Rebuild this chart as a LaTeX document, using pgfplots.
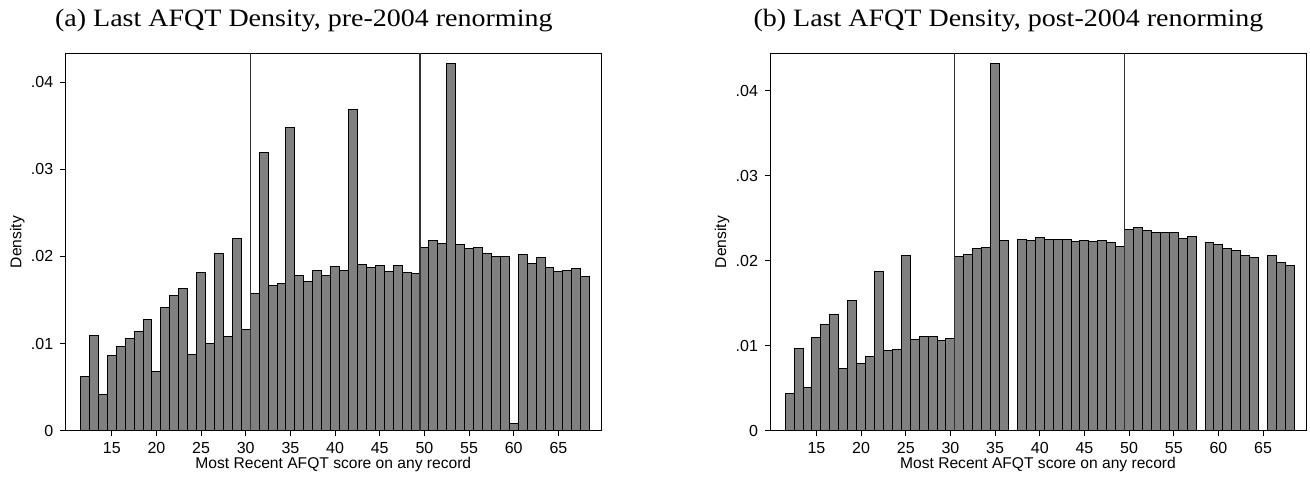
\documentclass[border=0pt]{standalone}
\usepackage{pgfplots}
\pgfplotsset{compat=1.18}
\usepackage{fontspec}
\setmainfont{Liberation Sans}
\newfontfamily\titlefont{Liberation Serif}
\definecolor{barfill}{RGB}{128,128,128}
\definecolor{vline}{RGB}{50,50,50}
\begin{document}
\begin{tikzpicture}
\useasboundingbox (0,0) rectangle (655pt,238.5pt);
\pgfplotsset{
  every axis title shift=0pt,
  every axis/.append style={
    scale only axis, width=268pt, height=188.7pt,
    anchor=south west,
    xmin=9.8, xmax=69.8, ymin=0,
    xtick={15,20,...,65},
    ytick={0,0.01,0.02,0.03,0.04},
    yticklabels={0,.01,.02,.03,.04},
    scaled y ticks=false,
    /pgf/number format/assume math mode=true,
    tick align=outside, xtick pos=bottom, ytick pos=left,
    major tick length=2.5pt,
    tick style={line width=0.5pt, black},
    axis line style={line width=0.5pt},
    tick label style={font=\fontsize{8}{9.5}\selectfont},
    label style={font=\fontsize{7.8}{9.5}\selectfont},
    xlabel={Most Recent AFQT score on any record},
    ylabel={Density},
    xlabel style={at={(axis description cs:0.5,-0.0996)}, anchor=base},
    ylabel style={at={(axis description cs:-0.0895,0.5)}, anchor=center},
    title style={at={(axis description cs:0.445,1.0697)}, anchor=base, font=\titlefont\fontsize{12.5}{14}\selectfont},
    clip=true,
  },
  mybar/.style={ybar, bar width=1, fill=barfill, draw=black, line width=0.5pt},
  myline/.style={vline, line width=0.55pt, forget plot},
}
% Panel (a)
\begin{axis}[at={(32.65pt,23.15pt)}, ymax=0.0433,
  title={\scalebox{1.12}[1]{(a) Last AFQT Density, pre-2004 renorming}}]
\addplot[mybar] coordinates {
(12,0.00624) (13,0.01095) (14,0.00417) (15,0.00865) (16,0.00968) (17,0.01060)
(18,0.01133) (19,0.01278) (20,0.00674) (21,0.01416) (22,0.01554) (23,0.01634)
(24,0.00876) (25,0.01818) (26,0.00995) (27,0.02036) (28,0.01083) (29,0.02200)
(30,0.01163) (31,0.01577) (32,0.03188) (33,0.01669) (34,0.01692) (35,0.03475)
(36,0.01783) (37,0.01711) (38,0.01833) (39,0.01783) (40,0.01883) (41,0.01841)
(42,0.03685) (43,0.01906) (44,0.01868) (45,0.01894) (46,0.01826) (47,0.01894)
(48,0.01818) (49,0.01806) (50,0.02101) (51,0.02178) (52,0.02147) (53,0.04217)
(54,0.02135) (55,0.02093) (56,0.02105) (57,0.02032) (58,0.02002) (59,0.01994)
(60,0.00077) (61,0.02024) (62,0.01921) (63,0.01986) (64,0.01871) (65,0.01826)
(66,0.01841) (67,0.01856) (68,0.01764)
};
\addplot[myline] coordinates {(30.5,0) (30.5,0.05)};
\addplot[myline] coordinates {(49.5,0) (49.5,0.05)};
\end{axis}
% Panel (b)
\begin{axis}[at={(385pt,23.15pt)}, ymax=0.0444,
  title={\scalebox{1.12}[1]{(b) Last AFQT Density, post-2004 renorming}}]
\addplot[mybar] coordinates {
(12,0.00436) (13,0.00970) (14,0.00510) (15,0.01095) (16,0.01252) (17,0.01362)
(18,0.00730) (19,0.01531) (20,0.00785) (21,0.00868) (22,0.01872) (23,0.00946)
(24,0.00954) (25,0.02061) (26,0.01076) (27,0.01103) (28,0.01107) (29,0.01060)
(30,0.01080) (31,0.02045) (32,0.02077) (33,0.02143) (34,0.02155) (35,0.04322)
(36,0.02234) (38,0.02245) (39,0.02238) (40,0.02269) (41,0.02245)
(42,0.02253) (43,0.02253) (44,0.02226) (45,0.02234) (46,0.02226) (47,0.02238)
(48,0.02210) (49,0.02171) (50,0.02363) (51,0.02391) (52,0.02355) (53,0.02336)
(54,0.02336) (55,0.02332) (56,0.02261) (57,0.02285) (59,0.02214)
(60,0.02190) (61,0.02143) (62,0.02120) (63,0.02065) (64,0.02033)
(66,0.02057) (67,0.01982) (68,0.01939)
};
\addplot[myline] coordinates {(30.5,0) (30.5,0.05)};
\addplot[myline] coordinates {(49.5,0) (49.5,0.05)};
\end{axis}
\end{tikzpicture}
\end{document}
